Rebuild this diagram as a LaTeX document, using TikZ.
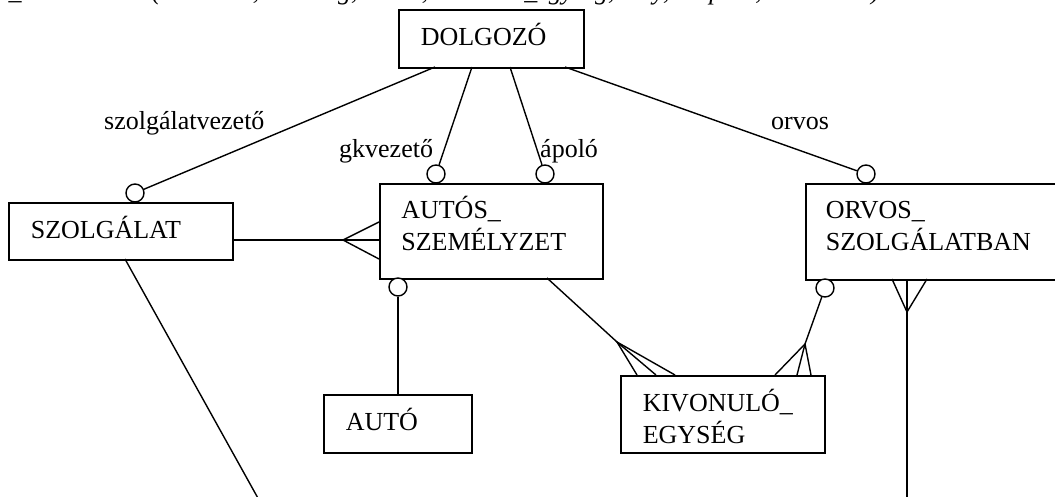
\documentclass[tikz,border=0pt]{standalone}
\usepackage{fontspec}
\setmainfont{Liberation Serif}
\begin{document}
\begin{tikzpicture}[x=1pt,y=-1pt,
  ent/.style={draw, line width=1.6pt, rectangle, anchor=north west, align=left,
    inner xsep=22pt, inner ysep=0pt, font=\fontsize{26}{31.5}\selectfont},
  lbl/.style={anchor=base west, inner sep=0pt, font=\fontsize{26}{31.5}\selectfont},
  opt/.style={draw, circle, line width=1.4pt, fill=white, minimum size=18pt, inner sep=0pt},
  conn/.style={line width=1.4pt}]
\useasboundingbox (0,0) rectangle (1055,496);
\clip (0,0) rectangle (1055,496);
\fill[white] (0,0) rectangle (1055,496);

% clipped caption line at the very top
\node[lbl] (title) at (-6,-1) {S\_ORVOSOK \textit{(dátumtól, dátumig, orvos, kivonuló\_egység, hely, időpont, időtartam)}};

% entities
\node[ent, minimum width=185pt, minimum height=58pt, text width=141pt, text height=13pt, text depth=0pt] (dolg) at (398,9) {DOLGOZÓ};
\node[ent, minimum width=224pt, minimum height=57pt, text width=180pt, text height=15pt, text depth=0pt] (szolg) at (8,202) {SZOLGÁLAT};
\node[ent, minimum width=223pt, minimum height=95pt, text width=180pt, inner xsep=21.5pt, text height=0pt, text depth=25pt] (szem) at (379,183) {AUTÓS\_\\SZEMÉLYZET};
\node[ent, minimum width=270pt, minimum height=96pt, text width=230pt, inner xsep=20pt, text height=0pt, text depth=26pt] (orvos) at (805,183) {ORVOS\_\\SZOLGÁLATBAN};
\node[ent, minimum width=148pt, minimum height=58pt, text width=104pt, text height=14pt, text depth=0pt] (auto) at (323,394) {AUTÓ};
\node[ent, minimum width=204pt, minimum height=77pt, text width=160pt, text height=0pt, text depth=5pt] (kiv) at (620,375) {KIVONULÓ\_\\EGYSÉG};

% optional-end circles
\node[opt] (c1) at (135,193) {};
\node[opt] (c2) at (436,174) {};
\node[opt] (c3) at (545,174) {};
\node[opt] (c4) at (866,174) {};
\node[opt] (c5) at (398,287) {};
\node[opt] (c6) at (825,288) {};

% connection points
\coordinate (d1) at (435,67);
\coordinate (d2) at (472,67);
\coordinate (d3) at (510,67);
\coordinate (d4) at (565,67);
\coordinate (s1) at (232,240);
\coordinate (a1) at (343,240);
\coordinate (p11) at (379,222);
\coordinate (p12) at (379,240);
\coordinate (p13) at (379,259);
\coordinate (k0) at (547,278);
\coordinate (a2) at (617,342);
\coordinate (p21) at (637,375);
\coordinate (p22) at (656,375);
\coordinate (p23) at (675,375);
\coordinate (a3) at (805,344);
\coordinate (p31) at (775,375);
\coordinate (p32) at (797,375);
\coordinate (p33) at (811,375);
\coordinate (p41) at (892,279);
\coordinate (p42) at (907,279);
\coordinate (p43) at (927,279);
\coordinate (a4) at (907,312);
\coordinate (e4) at (907,500);
\coordinate (s2) at (125,259);
\coordinate (e2) at (259,500);
\coordinate (at) at (398,394);

% connectors
\draw[conn] (d1) -- (c1);
\draw[conn] (d2) -- (c2);
\draw[conn] (d3) -- (c3);
\draw[conn] (d4) -- (c4);
\draw[conn] (s1) -- (a1) -- (p12);
\draw[conn] (p11) -- (a1) -- (p13);
\draw[conn] (c5) -- (at);
\draw[conn] (k0) -- (a2) -- (p22);
\draw[conn] (p21) -- (a2) -- (p23);
\draw[conn] (c6) -- (a3) -- (p32);
\draw[conn] (p31) -- (a3) -- (p33);
\draw[conn] (p41) -- (a4) -- (p43);
\draw[conn] (p42) -- (a4) -- (e4);
\draw[conn] (s2) -- (e2);

% role labels
\node[lbl] (l1) at (104,129) {szolgálatvezető};
\node[lbl] (l2) at (339,157) {gkvezető};
\node[lbl] (l3) at (540,157) {ápoló};
\node[lbl] (l4) at (771,129) {orvos};
\end{tikzpicture}
\end{document}
